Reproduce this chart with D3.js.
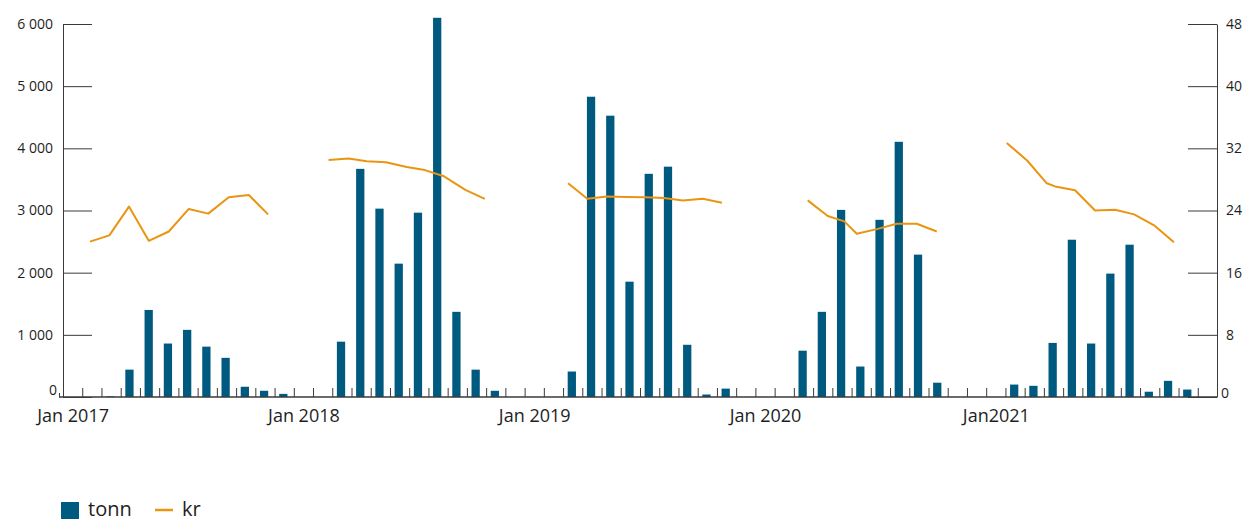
<!DOCTYPE html>
<html><head><meta charset="utf-8">
<script src="https://cdn.jsdelivr.net/npm/d3@7"></script>
<style>
body{margin:0;background:#fff;}
svg{display:block;font-family:"Open Sans",sans-serif;}
</style>
</head><body>
<svg id="chart" width="1244" height="523"></svg>
<script>
// ---- data ----
const yearLabels = ["Jan 2017", "Jan 2018", "Jan 2019", "Jan 2020", "Jan2021"];
// monthly volume (tonn), Jan 2017 .. Dec 2021
const tonn2017 = [0, 0, 10, 440, 1400, 860, 1080, 810, 630, 165, 100, 50];
const tonn2018 = [0, 0, 890, 3670, 3030, 2145, 2965, 6100, 1370, 440, 100, 0];
const tonn2019 = [0, 0, 410, 4830, 4525, 1855, 3590, 3705, 840, 40, 135, 0];
const tonn2020 = [0, 0, 745, 1370, 3010, 490, 2850, 4105, 2290, 230, 0, 0];
const tonn2021 = [0, 200, 180, 870, 2530, 860, 1985, 2450, 85, 260, 120, 0];
const tonn = [...tonn2017, ...tonn2018, ...tonn2019, ...tonn2020, ...tonn2021];
// price line (kr): position in months since Jan 2017 and value
const krMonth = [1.40, 2.41, 3.43, 4.46, 5.50, 6.54, 7.55, 8.62, 9.66, 10.66,
  13.81, 14.85, 15.79, 16.79, 17.87, 18.81, 19.81, 20.92, 21.93,
  26.26, 27.26, 28.27, 29.27, 30.28, 31.25, 32.22, 33.26, 34.26,
  38.72, 39.76, 40.62, 41.27, 42.31, 43.35, 44.39, 45.43,
  49.07, 50.14, 51.15, 51.58, 52.62, 53.66, 54.70, 55.69, 56.73, 57.76];
const krValue = [20.0, 20.8, 24.5, 20.1, 21.3, 24.2, 23.6, 25.7, 26.0, 23.5,
  30.5, 30.7, 30.35, 30.2, 29.6, 29.2, 28.4, 26.65, 25.5,
  27.5, 25.5, 25.8, 25.75, 25.7, 25.6, 25.3, 25.5, 25.0,
  25.3, 23.3, 22.6, 21.0, 21.6, 22.3, 22.3, 21.3,
  32.7, 30.4, 27.5, 27.1, 26.6, 24.0, 24.1, 23.5, 22.1, 19.9];
const leftTicks = [0, 1000, 2000, 3000, 4000, 5000, 6000];
const rightTicks = [0, 8, 16, 24, 32, 40, 48];
const legendLabels = ["tonn", "kr"];

// ---- style ----
const barColor = "#005a80";
const lineColor = "#e99512";
const axisColor = "#3a3a3a";
const textColor = "#1e1e1e";

const svg = d3.select("#chart");
const x = d3.scaleLinear().domain([0, 60]).range([63, 1217]);
const yL = d3.scaleLinear().domain([0, 6000]).range([397, 24]);
const yR = d3.scaleLinear().domain([0, 48]).range([397, 24]);
const bw = x(1) - x(0);

const nf = d3.formatLocale({decimal: ",", thousands: " ", grouping: [3], currency: ["", ""]}).format(",d");

// bars
svg.append("g").selectAll("rect").data(tonn).join("rect")
  .attr("x", (d, i) => x(i) + bw * 0.24)
  .attr("width", bw * 0.43)
  .attr("y", d => yL(d))
  .attr("height", d => yL(0) - yL(d))
  .attr("fill", barColor);

// bottom axis: month ticks
const gx = svg.append("g").attr("transform", `translate(0,${yL(0)})`)
  .call(d3.axisBottom(x).tickValues(d3.range(1, 60)).tickSize(-9).tickSizeOuter(0).tickFormat(""));
gx.select(".domain").remove();
gx.selectAll("line").attr("stroke", axisColor).attr("stroke-width", 1);

// bottom labels
const gxl = svg.append("g").attr("transform", `translate(0,${yL(0)})`)
  .call(d3.axisBottom(x).tickValues(d3.range(0.5, 60, 12)).tickSize(0).tickPadding(12)
    .tickFormat((d, i) => yearLabels[i]));
gxl.select(".domain").remove();
gxl.selectAll("text").attr("font-size", 18).attr("fill", textColor).attr("font-family", "Open Sans");

// baseline
svg.append("line").attr("x1", 59).attr("x2", x(60)).attr("y1", yL(0)).attr("y2", yL(0))
  .attr("stroke", axisColor).attr("stroke-width", 1.6);
svg.append("line").attr("x1", 59.5).attr("x2", 59.5).attr("y1", yL(0) - 4).attr("y2", yL(0))
  .attr("stroke", axisColor).attr("stroke-width", 1);

// left axis
const gl = svg.append("g").attr("transform", `translate(${x(0)},0)`)
  .call(d3.axisLeft(yL).tickValues(leftTicks).tickSize(-29).tickSizeOuter(0).tickPadding(10).tickFormat(nf));
gl.select(".domain").attr("stroke", axisColor);
gl.selectAll("line").attr("stroke", axisColor);
gl.selectAll("text").attr("font-size", 14).attr("fill", textColor).attr("font-family", "Open Sans");
gl.selectAll(".tick").filter(d => d === 0).select("text").attr("dx", 4).attr("dy", "-0.18em");

// right axis
const gr = svg.append("g").attr("transform", `translate(${x(60)},0)`)
  .call(d3.axisRight(yR).tickValues(rightTicks).tickSize(-29).tickSizeOuter(0).tickPadding(9));
gr.select(".domain").attr("stroke", axisColor);
gr.selectAll("line").attr("stroke", axisColor);
gr.selectAll("text").attr("font-size", 14).attr("fill", textColor).attr("font-family", "Open Sans");
gr.selectAll(".tick").filter(d => d === 0).select("text").attr("dx", -5).attr("dy", "0.05em");

// price line segments (one per year)
const krPts = krMonth.map((m, i) => ({m, v: krValue[i]}));
const segs = d3.groups(krPts, d => Math.floor(d.m / 12));
const line = d3.line().x(d => x(d.m)).y(d => yR(d.v));
svg.append("g").selectAll("path").data(segs).join("path")
  .attr("d", d => line(d[1]))
  .attr("fill", "none").attr("stroke", lineColor).attr("stroke-width", 2)
  .attr("stroke-linejoin", "round");

// legend
const lg = svg.append("g");
lg.append("rect").attr("x", 61).attr("y", 502).attr("width", 18).attr("height", 17).attr("fill", barColor);
lg.append("text").attr("x", 88).attr("y", 516).text(legendLabels[0])
  .attr("font-size", 20).attr("fill", textColor);
lg.append("line").attr("x1", 155).attr("x2", 173).attr("y1", 510).attr("y2", 510)
  .attr("stroke", lineColor).attr("stroke-width", 2.5);
lg.append("text").attr("x", 182).attr("y", 516).text(legendLabels[1])
  .attr("font-size", 20).attr("fill", textColor);
</script>
</body></html>
